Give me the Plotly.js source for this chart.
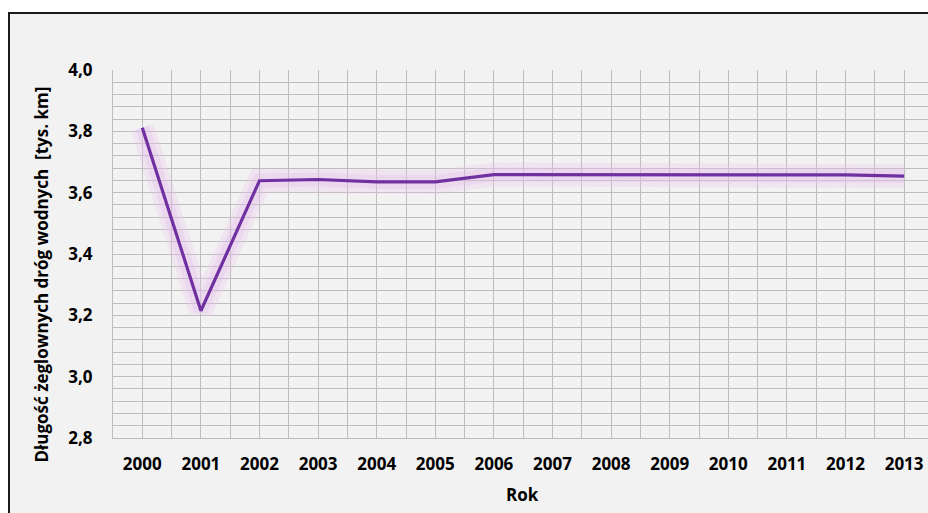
<!DOCTYPE html>
<html>
<head>
<meta charset="utf-8">
<script src="https://cdn.plot.ly/plotly-3.0.1.min.js"></script>
<style>html,body{margin:0;padding:0;background:#fff;}#chart{width:928px;height:513px;}</style>
</head>
<body>
<div id="chart"></div>
<script>
var years = [2000, 2001, 2002, 2003, 2004, 2005, 2006, 2007, 2008, 2009, 2010, 2011, 2012, 2013];
var lengthKm = [3.812, 3.215, 3.639, 3.643, 3.635, 3.635, 3.659, 3.659, 3.659, 3.659, 3.659, 3.659, 3.658, 3.654];
var yTitle = "Długość żeglownych dróg wodnych\u00a0 [tys. km]";
var xTitle = "Rok";

var W = 928, H = 513, L = 113, T = 70, B = 75, R = 0;
var pw = W - L - R, ph = H - T - B;
function px(x) { return (x - L) / pw; }
function py(y) { return (H - B - y) / ph; }

var glow1 = {x: years, y: lengthKm, type: 'scatter', mode: 'lines', hoverinfo: 'skip',
  line: {color: 'rgba(232,195,238,0.28)', width: 24}};
var glow2 = {x: years, y: lengthKm, type: 'scatter', mode: 'lines', hoverinfo: 'skip',
  line: {color: 'rgba(228,188,236,0.28)', width: 14}};
var main = {x: years, y: lengthKm, type: 'scatter', mode: 'lines',
  line: {color: '#7030a0', width: 3.2}};

var tickFont = {family: 'Open Sans, sans-serif', size: 17, color: '#000', weight: 700};
var gridCol = '#bdbdbd';

var layout = {
  width: W, height: H,
  margin: {l: L, r: R, t: T, b: B, pad: 0},
  paper_bgcolor: '#ffffff',
  plot_bgcolor: 'rgba(0,0,0,0)',
  showlegend: false,
  separators: ', ',
  xaxis: {
    range: [1999.5, 1999.5 + pw / 58.6],
    tickmode: 'array', tickvals: years, ticktext: years.map(String),
    showgrid: true, gridcolor: gridCol, gridwidth: 1, zeroline: false,
    showline: true, linecolor: gridCol, linewidth: 1,
    ticks: '', tickfont: tickFont, ticklabelstandoff: 11,
    minor: {tick0: 1999.5, dtick: 1, showgrid: true, gridcolor: gridCol, gridwidth: 1},
    fixedrange: true
  },
  yaxis: {
    range: [2.8, 4.0], dtick: 0.2, tick0: 2.8, tickformat: '.1f',
    showgrid: true, gridcolor: gridCol, gridwidth: 1, zeroline: false,
    showline: true, linecolor: gridCol, linewidth: 1,
    ticks: '', tickfont: tickFont, ticklabelstandoff: 16,
    minor: {dtick: 0.04, showgrid: true, gridcolor: gridCol, gridwidth: 1},
    fixedrange: true
  },
  shapes: [
    {type: 'rect', xref: 'paper', yref: 'paper', layer: 'below',
     x0: px(9), x1: px(960), y0: py(540), y1: py(13),
     fillcolor: '#f2f2f2', line: {color: '#1a1a1a', width: 2}}
  ],
  annotations: [
    {text: yTitle, xref: 'paper', yref: 'paper', x: px(40.5), y: py(275),
     showarrow: false, textangle: -90, xanchor: 'center', yanchor: 'middle',
     font: {family: 'Open Sans, sans-serif', size: 17, color: '#000', weight: 700}},
    {text: xTitle, xref: 'paper', yref: 'paper', x: px(522), y: py(494),
     showarrow: false, xanchor: 'center', yanchor: 'middle',
     font: {family: 'Open Sans, sans-serif', size: 17, color: '#000', weight: 700}}
  ]
};

Plotly.newPlot('chart', [glow1, glow2, main], layout, {displayModeBar: false, staticPlot: true});
</script>
</body>
</html>
